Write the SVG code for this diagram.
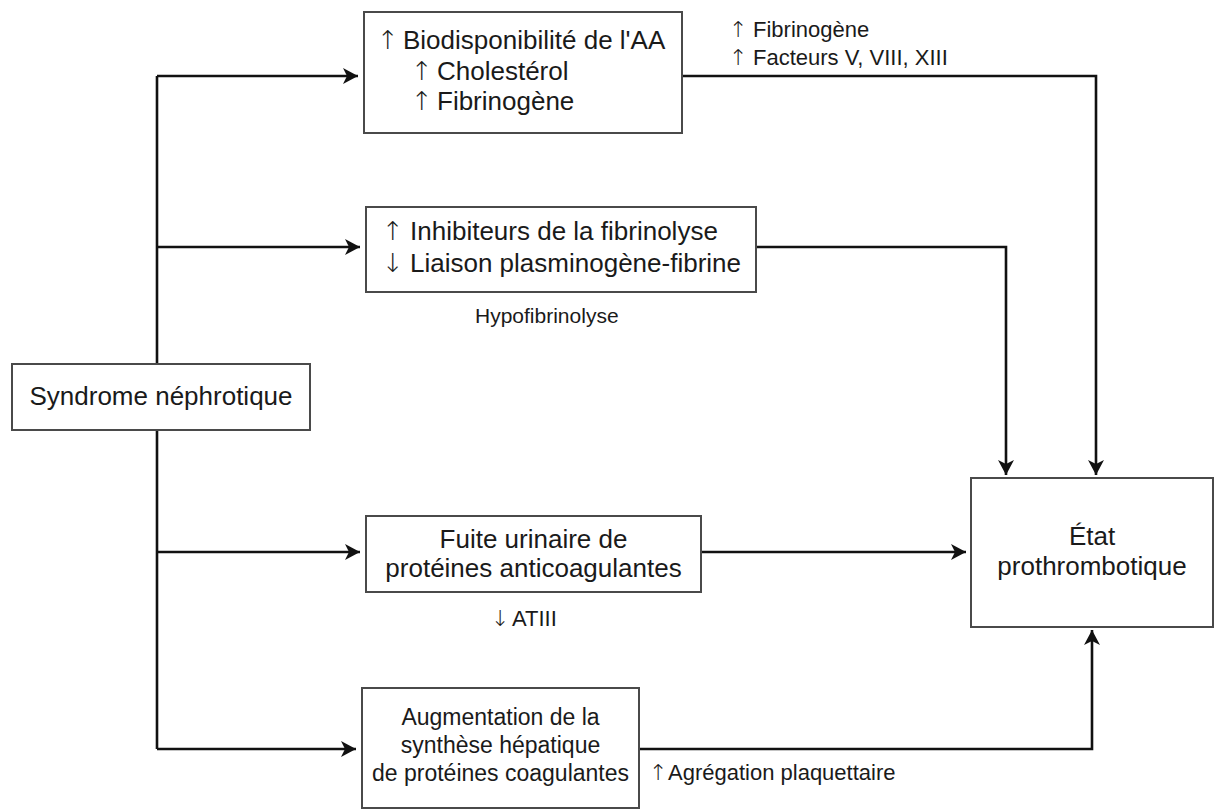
<svg xmlns="http://www.w3.org/2000/svg" width="1218" height="811" viewBox="0 0 1218 811">
<defs>
<marker id="ah" markerUnits="userSpaceOnUse" markerWidth="16" markerHeight="16" refX="15" refY="8" orient="auto">
<path d="M0,0 L15,8 L0,16 L4,8 z" fill="#111"/>
</marker>
<style>
.box{fill:#fff;stroke:#4a4a4a;stroke-width:2}
.t{font-family:"Liberation Sans",Arial,sans-serif;font-size:26px;fill:#1a1a1a}
.t2{font-family:"Liberation Sans",Arial,sans-serif;font-size:23px;fill:#1a1a1a}
.s{font-family:"Liberation Sans",Arial,sans-serif;font-size:22px;fill:#1a1a1a}
.a{font-family:"DejaVu Sans",sans-serif;font-weight:200;text-anchor:middle}
.m{text-anchor:middle}
.c{fill:none;stroke:#111;stroke-width:2.6}
</style>
</defs>
<rect width="1218" height="811" fill="#fff"/>
<g id="connectors">
<polyline class="c" points="157,76 157,749"/>
<polyline class="c" points="157,76 358,76" marker-end="url(#ah)"/>
<polyline class="c" points="157,247 360,247" marker-end="url(#ah)"/>
<polyline class="c" points="157,552 360,552" marker-end="url(#ah)"/>
<polyline class="c" points="157,749 356,749" marker-end="url(#ah)"/>
<polyline class="c" points="682,76 1096,76 1096,475" marker-end="url(#ah)"/>
<polyline class="c" points="756,247 1006,247 1006,475" marker-end="url(#ah)"/>
<polyline class="c" points="701,552 966,552" marker-end="url(#ah)"/>
<polyline class="c" points="639,749 1092,749 1092,630" marker-end="url(#ah)"/>
</g>
<g id="syndrome">
<rect class="box" x="12" y="364" width="298" height="66"/>
<text class="t m" x="161" y="405">Syndrome néphrotique</text>
</g>
<g id="biodispo">
<rect class="box" x="364" y="12" width="318" height="121"/>
<text class="t"><tspan x="388" y="49" class="a">↑</tspan><tspan x="403" y="49">Biodisponibilité de l'AA</tspan></text>
<text class="t"><tspan x="422" y="80" class="a">↑</tspan><tspan x="437" y="80">Cholestérol</tspan></text>
<text class="t"><tspan x="422" y="110" class="a">↑</tspan><tspan x="437" y="110">Fibrinogène</tspan></text>
</g>
<g id="label-facteurs">
<text class="s"><tspan x="738" y="37" class="a">↑</tspan><tspan x="753" y="37">Fibrinogène</tspan></text>
<text class="s"><tspan x="738" y="65" class="a">↑</tspan><tspan x="753" y="65">Facteurs V, VIII, XIII</tspan></text>
</g>
<g id="fibrinolyse">
<rect class="box" x="366" y="207" width="390" height="85"/>
<text class="t"><tspan x="393" y="240" class="a">↑</tspan><tspan x="410" y="240">Inhibiteurs de la fibrinolyse</tspan></text>
<text class="t"><tspan x="393" y="272" class="a">↓</tspan><tspan x="410" y="272">Liaison plasminogène-fibrine</tspan></text>
</g>
<g id="label-hypo">
<text class="s" x="475" y="323" style="font-size:21px">Hypofibrinolyse</text>
</g>
<g id="fuite">
<rect class="box" x="366" y="516" width="335" height="76"/>
<text class="t m" x="533.5" y="548">Fuite urinaire de</text>
<text class="t m" x="533.5" y="577">protéines anticoagulantes</text>
</g>
<g id="label-atiii">
<text class="s"><tspan x="500" y="626" class="a">↓</tspan><tspan x="512" y="626">ATIII</tspan></text>
</g>
<g id="augmentation">
<rect class="box" x="362" y="688" width="277" height="120"/>
<text class="t2 m" x="500.5" y="725">Augmentation de la</text>
<text class="t2 m" x="500.5" y="753">synthèse hépatique</text>
<text class="t2 m" x="500.5" y="781">de protéines coagulantes</text>
</g>
<g id="label-agregation">
<text class="s"><tspan x="658" y="780" class="a">↑</tspan><tspan x="668" y="780">Agrégation plaquettaire</tspan></text>
</g>
<g id="etat">
<rect class="box" x="971" y="478" width="242" height="149"/>
<text class="t m" x="1092" y="545">État</text>
<text class="t m" x="1092" y="575">prothrombotique</text>
</g>
</svg>
